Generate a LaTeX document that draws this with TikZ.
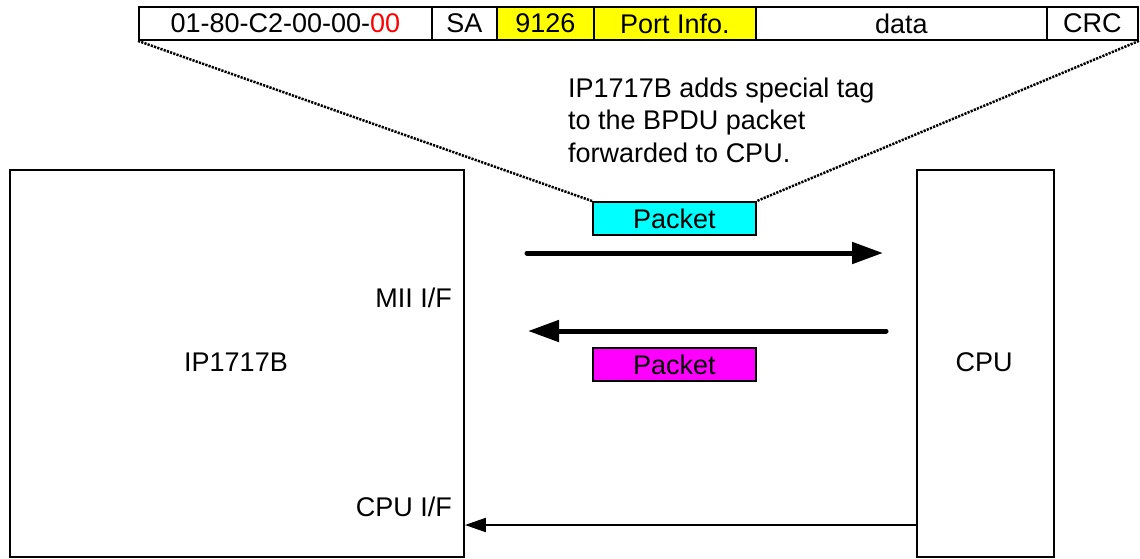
\documentclass[tikz,border=0pt]{standalone}
\usepackage{fontspec}
\setmainfont{Liberation Sans}
\usetikzlibrary{arrows.meta}
\definecolor{pcyan}{RGB}{0,255,255}
\definecolor{pmagenta}{RGB}{255,0,255}
\definecolor{pyellow}{RGB}{255,255,0}
\definecolor{pred}{RGB}{255,0,0}
\begin{document}
\begin{tikzpicture}[x=1pt,y=-1pt,
  every node/.style={font=\fontsize{27}{32.5}\selectfont, inner sep=0pt},
  block/.style={draw, line width=1.9pt, fill=white},
  field/.style={draw, line width=1.9pt, minimum height=33pt, anchor=north west},
  pkt/.style={draw, line width=1.9pt, minimum width=163pt, minimum height=33pt, anchor=north west},
  zoomline/.style={line width=2.5pt, dash pattern=on 2.2pt off 1.2pt},
  bigarrow/.style={line width=5pt, line cap=round, -{Triangle[length=31pt,width=21pt]}},
  thinarrow/.style={line width=2pt, -{Triangle[length=21pt,width=14pt]}}
]
\useasboundingbox (0,0) rectangle (1140,558);
% main blocks
\node[block, minimum width=454pt, minimum height=387pt, anchor=north west] (ip) at (9,169) {};
\node at (236,362) (iplabel) {IP1717B};
\node[block, minimum width=137pt, minimum height=387pt, anchor=north west] (cpu) at (916,169) {};
\node at (984,362) (cpulabel) {CPU};
\node[anchor=base east] (mii) at (452,307) {MII I/F};
\node[anchor=base east] (cpuif) at (452,516) {CPU I/F};
% header fields
\node[field, minimum width=293pt] (f1) at (138,6) {01-80-C2-00-00-\textcolor{pred}{00}};
\node[field, minimum width=65pt] (f2) at (431,6) {SA};
\node[field, minimum width=97pt, fill=pyellow] (f3) at (496,6) {9126};
\node[field, minimum width=162pt, fill=pyellow] (f4) at (593,6) {Port Info.};
\node[field, minimum width=291pt] (f5) at (755,6) {data};
\node[field, minimum width=91pt] (f6) at (1046,6) {CRC};
% packets
\node[pkt, fill=pcyan] (p1) at (592,201) {Packet};
\node[pkt, fill=pmagenta] (p2) at (592,347) {Packet};
% description
\node[anchor=base west, align=left] (desc) at (568,162) {IP1717B adds special tag\\to the BPDU packet\\forwarded to CPU.};
% zoom lines
\draw[zoomline] (f1.south west) -- (p1.north west);
\draw[zoomline] (f6.south east) -- (p1.north east);
% arrows
\coordinate (a1s) at (527,253);
\coordinate (a1e) at (883,253);
\coordinate (a2s) at (886,331);
\coordinate (a2e) at (528,331);
\draw[bigarrow] (a1s) -- (a1e);
\draw[bigarrow] (a2s) -- (a2e);
\draw[thinarrow] (cpu.west |- 0,525) -- (ip.east |- 0,525);
\end{tikzpicture}
\end{document}
